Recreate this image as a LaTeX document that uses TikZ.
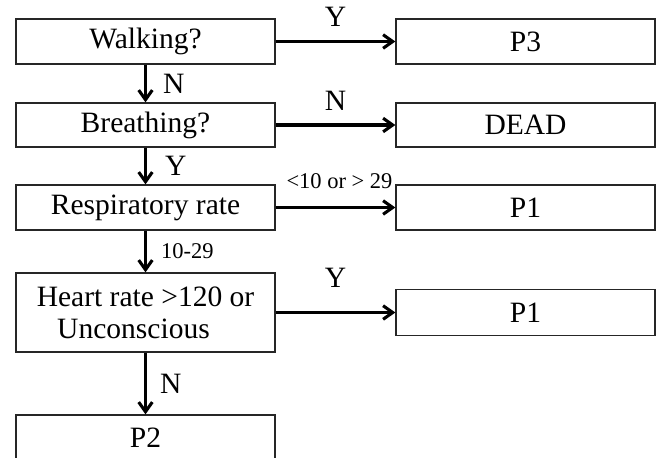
\documentclass[tikz,border=0pt]{standalone}
\usepackage{fontspec}
\setmainfont{Liberation Serif}
\usepackage{tikz}
\usetikzlibrary{arrows.meta}

\begin{document}
\begin{tikzpicture}
		\tikzset{> = {Straight Barb[length = 2.4mm, width = 3.4mm]}}
		\tikzset{box/.style = {draw = black!85, line width = 0.9pt, minimum width = 6.475cm, minimum height = 1.125cm, inner sep = 0pt, font = \fontsize{21}{23}\selectfont},
			flow/.style = {->, line width = 2.2pt},
			lbl/.style = {inner sep = 0pt, font = \fontsize{21}{23}\selectfont},
			small/.style = {inner sep = 0pt, font = \fontsize{16}{18}\selectfont}}
		\clip (0,0) rectangle (16.425,-11.425);
		\node[box] (W) at (3.6375,-1.0375){Walking?};
		\node[box, minimum height = 1.1cm] (B) at (3.6375,-3.125){Breathing?};
		\node[box] (R) at (3.6375,-5.1875){Respiratory rate};
		\node[box, minimum height = 1.975cm, align = center] (H) at (3.6375,-7.8125){Heart rate >120 or\\Unconscious\kern 0.6cm};
		\node[box] (P2) at (3.6375,-10.9375){P2};
		\node[box] (P3) at (13.1375,-1.0375){P3};
		\node[box, minimum height = 1.1cm] (D) at (13.1375,-3.125){DEAD};
		\node[box] (P1a) at (13.1375,-5.1875){P1};
		\node[box, minimum height = 1.15cm] (P1b) at (13.1375,-7.8125){P1};
		\draw[flow] (W) -- node[lbl, above = 0.34cm]{Y}(P3);
		\draw[flow] (B) -- node[lbl, above = 0.33cm]{N}(D);
		\draw[flow] (R) -- node[small, above = 0.44cm, xshift = 0.1cm]{<10 or > 29}(P1a);
		\draw[flow] (H) -- node[lbl, above = 0.58cm]{Y}(P1b);
		\draw[flow] (W) -- node[lbl, right = 0.4cm]{N}(B);
		\draw[flow] (B) -- node[lbl, right = 0.45cm]{Y}(R);
		\draw[flow] (R) -- node[small, right = 0.35cm]{10-29}(H);
		\draw[flow] (H) -- node[lbl, right = 0.33cm]{N}(P2);
	\end{tikzpicture}
\end{document}
